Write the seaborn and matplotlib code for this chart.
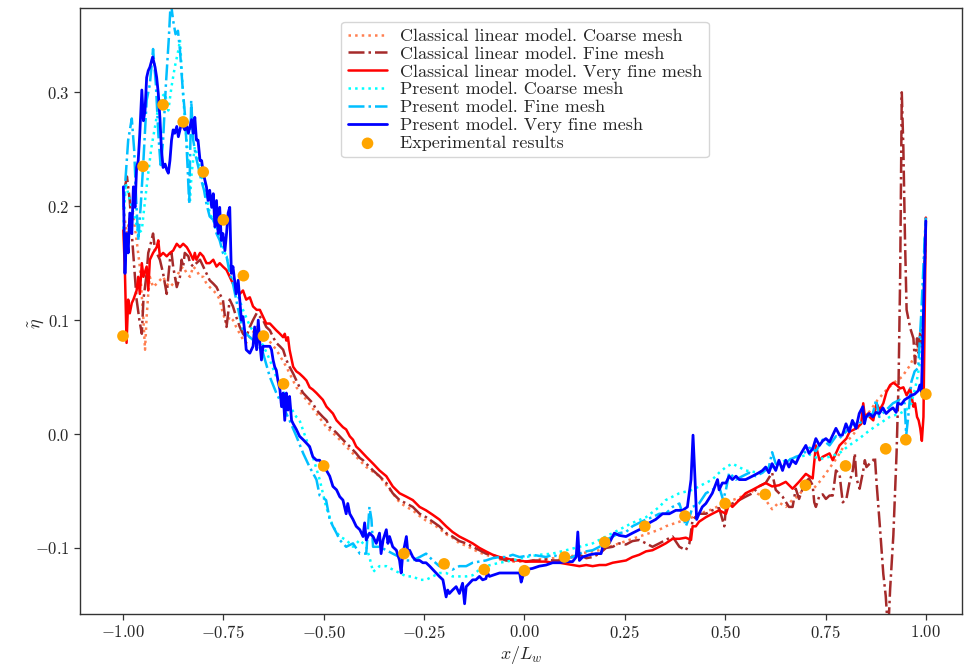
import matplotlib
matplotlib.use("Agg")
import matplotlib.pyplot as plt
import seaborn as sns

# ---------------- data ----------------
x_exp = [-1.0, -0.95, -0.9, -0.85, -0.8, -0.75, -0.7, -0.65, -0.6, -0.5, -0.3, -0.2, -0.1,
         0.0, 0.1, 0.2, 0.3, 0.4, 0.5, 0.6, 0.7, 0.8, 0.9, 0.95, 1.0]
y_exp = [0.086, 0.235, 0.289, 0.274, 0.230, 0.188, 0.139, 0.086, 0.044, -0.028, -0.105, -0.114, -0.119,
         -0.120, -0.108, -0.095, -0.081, -0.072, -0.061, -0.053, -0.045, -0.028, -0.013, -0.005, 0.035]

# Classical linear model, coarse mesh (coral dotted)
x_clc = [-0.999, -0.991, -0.983, -0.975, -0.966, -0.958, -0.949, -0.945, -0.941, -0.937, -0.933, -0.925,
         -0.916, -0.908, -0.900, -0.891, -0.883, -0.875, -0.866, -0.858, -0.850, -0.841, -0.833, -0.825,
         -0.817, -0.808, -0.800, -0.792, -0.784, -0.775, -0.767, -0.759, -0.751, -0.742, -0.734, -0.726,
         -0.718, -0.709, -0.701, -0.693, -0.684, -0.667, -0.643, -0.618, -0.593, -0.568, -0.543, -0.518,
         -0.493, -0.468, -0.444, -0.419, -0.394, -0.361, -0.344, -0.328, -0.311, -0.294, -0.278, -0.261,
         -0.245, -0.228, -0.212, -0.195, -0.179, -0.162, -0.145, -0.129, -0.112, -0.096, -0.079, -0.062,
         -0.046, -0.029, -0.012, 0.004, 0.020, 0.037, 0.054, 0.070, 0.087, 0.104, 0.120, 0.137, 0.154,
         0.170, 0.187, 0.203, 0.220, 0.236, 0.253, 0.269, 0.286, 0.303, 0.319, 0.336, 0.352, 0.369,
         0.386, 0.402, 0.419, 0.435, 0.452, 0.468, 0.485, 0.502, 0.518, 0.535, 0.551, 0.568, 0.584,
         0.601, 0.617, 0.634, 0.651, 0.667, 0.684, 0.700, 0.720, 0.740, 0.760, 0.780, 0.800, 0.820,
         0.840, 0.860, 0.880, 0.900, 0.920, 0.940, 0.960, 0.980, 0.990, 1.0]
y_clc = [0.199, 0.176, 0.190, 0.194, 0.170, 0.147, 0.100, 0.074, 0.103, 0.123, 0.138, 0.129,
         0.132, 0.135, 0.138, 0.132, 0.129, 0.132, 0.138, 0.144, 0.147, 0.141, 0.138, 0.147,
         0.144, 0.138, 0.138, 0.132, 0.129, 0.126, 0.123, 0.118, 0.106, 0.097, 0.103, 0.100,
         0.094, 0.088, 0.083, 0.080, 0.085, 0.094, 0.085, 0.074, 0.059, 0.041, 0.030, 0.018,
         0.006, -0.002, -0.011, -0.020, -0.029, -0.037, -0.045, -0.052, -0.060, -0.064, -0.067, -0.072,
         -0.076, -0.079, -0.083, -0.088, -0.091, -0.096, -0.098, -0.101, -0.104, -0.106, -0.108, -0.110,
         -0.111, -0.112, -0.112, -0.112, -0.111, -0.110, -0.110, -0.109, -0.110, -0.108, -0.107, -0.105, -0.104,
         -0.103, -0.102, -0.100, -0.098, -0.096, -0.094, -0.092, -0.090, -0.088, -0.086, -0.084, -0.081, -0.079,
         -0.077, -0.075, -0.073, -0.070, -0.068, -0.066, -0.063, -0.061, -0.058, -0.056, -0.053, -0.050, -0.053,
         -0.058, -0.066, -0.060, -0.064, -0.058, -0.054, -0.045, -0.048, -0.040, -0.030, -0.020, -0.008, 0.000,
         0.010, 0.020, 0.030, 0.038, 0.045, 0.050, 0.060, 0.075, 0.090, 0.170]

# Classical linear model, fine mesh (brown dash-dot)
x_clf = [-0.995, -0.990, -0.983, -0.978, -0.972, -0.966, -0.959, -0.953, -0.949, -0.941, -0.937, -0.933,
         -0.925, -0.920, -0.916, -0.908, -0.900, -0.891, -0.887, -0.883, -0.879, -0.875, -0.866, -0.858,
         -0.854, -0.850, -0.846, -0.837, -0.833, -0.825, -0.817, -0.808, -0.800, -0.792, -0.784, -0.775,
         -0.767, -0.759, -0.751, -0.746, -0.742, -0.738, -0.734, -0.726, -0.718, -0.709, -0.701, -0.693,
         -0.684, -0.676, -0.667, -0.659, -0.651, -0.643, -0.634, -0.626, -0.618, -0.609, -0.601, -0.593,
         -0.585, -0.576, -0.568, -0.560, -0.551, -0.543, -0.535, -0.527, -0.518, -0.510, -0.502, -0.493,
         -0.485, -0.477, -0.468, -0.460, -0.452, -0.444, -0.435, -0.427, -0.419, -0.410, -0.402, -0.394,
         -0.377, -0.361, -0.344, -0.328, -0.311, -0.294, -0.278, -0.261, -0.245, -0.228, -0.212, -0.195,
         -0.179, -0.162, -0.145, -0.129, -0.112, -0.096, -0.079, -0.062, -0.046, -0.029, -0.012, 0.004,
         0.020, 0.037, 0.054, 0.070, 0.087, 0.104, 0.120, 0.137, 0.154, 0.170, 0.187, 0.203, 0.220,
         0.236, 0.253, 0.269, 0.286, 0.303, 0.319, 0.336, 0.352, 0.369, 0.386, 0.402, 0.411, 0.419,
         0.435, 0.452, 0.468, 0.485, 0.498, 0.502, 0.518, 0.535, 0.551, 0.568, 0.584, 0.601, 0.617,
         0.626, 0.643, 0.659, 0.668, 0.676, 0.684, 0.693, 0.701, 0.709, 0.718, 0.722, 0.726, 0.735,
         0.743, 0.751, 0.760, 0.768, 0.776, 0.785, 0.789, 0.793, 0.802, 0.810, 0.818, 0.823, 0.827,
         0.835, 0.844, 0.848, 0.852, 0.860, 0.869, 0.873, 0.877, 0.885, 0.894, 0.900, 0.906, 0.911,
         0.919, 0.927, 0.932, 0.936, 0.940, 0.944, 0.948, 0.952, 0.961, 0.969, 0.973, 0.978, 0.982,
         0.986, 0.990, 0.994, 0.998, 1.0]
y_clf = [0.217, 0.226, 0.205, 0.176, 0.147, 0.118, 0.100, 0.088, 0.118, 0.141, 0.159, 0.164,
         0.176, 0.161, 0.159, 0.153, 0.141, 0.123, 0.138, 0.153, 0.159, 0.147, 0.129, 0.138,
         0.153, 0.147, 0.159, 0.156, 0.150, 0.147, 0.150, 0.153, 0.147, 0.141, 0.135, 0.132,
         0.129, 0.123, 0.118, 0.103, 0.094, 0.106, 0.118, 0.112, 0.103, 0.094, 0.088, 0.085,
         0.094, 0.100, 0.106, 0.103, 0.100, 0.094, 0.091, 0.085, 0.080, 0.077, 0.074, 0.065,
         0.059, 0.053, 0.047, 0.041, 0.036, 0.033, 0.030, 0.027, 0.021, 0.018, 0.015, 0.012,
         0.006, 0.004, 0.001, -0.002, -0.005, -0.008, -0.011, -0.014, -0.017, -0.021, -0.023, -0.026,
         -0.032, -0.037, -0.043, -0.052, -0.058, -0.061, -0.064, -0.070, -0.073, -0.077, -0.081, -0.087,
         -0.090, -0.094, -0.096, -0.099, -0.102, -0.105, -0.106, -0.109, -0.111, -0.110, -0.111, -0.112,
         -0.111, -0.111, -0.110, -0.111, -0.111, -0.109, -0.108, -0.106, -0.109, -0.108, -0.105, -0.100, -0.099,
         -0.096, -0.097, -0.094, -0.093, -0.096, -0.099, -0.096, -0.093, -0.090, -0.099, -0.102, -0.096, -0.075,
         -0.070, -0.070, -0.067, -0.065, -0.081, -0.064, -0.061, -0.058, -0.055, -0.052, -0.046, -0.043, -0.034,
         -0.049, -0.055, -0.064, -0.064, -0.048, -0.057, -0.048, -0.042, -0.039, -0.045, -0.060, -0.064, -0.054,
         -0.053, -0.057, -0.054, -0.054, -0.032, -0.035, -0.048, -0.060, -0.057, -0.042, -0.032, -0.017, -0.039,
         -0.048, -0.032, -0.023, -0.029, -0.026, -0.023, -0.020, -0.042, -0.079, -0.123, -0.142, -0.175, -0.136,
         -0.089, -0.017, 0.046, 0.140, 0.300, 0.250, 0.171, 0.109, 0.093, 0.084, 0.062, 0.084, 0.071,
         0.090, 0.077, 0.109, 0.171, 0.190]

# Classical linear model, very fine mesh (red solid)
x_clv = [-0.999, -0.995, -0.991, -0.987, -0.983, -0.978, -0.974, -0.966, -0.962, -0.958, -0.953, -0.949,
         -0.941, -0.937, -0.933, -0.925, -0.916, -0.912, -0.908, -0.900, -0.891, -0.883, -0.875, -0.866,
         -0.858, -0.850, -0.841, -0.833, -0.825, -0.821, -0.817, -0.808, -0.800, -0.792, -0.784, -0.775,
         -0.767, -0.759, -0.751, -0.742, -0.734, -0.726, -0.718, -0.709, -0.701, -0.693, -0.684, -0.676,
         -0.667, -0.659, -0.651, -0.643, -0.634, -0.626, -0.618, -0.609, -0.601, -0.597, -0.593, -0.589,
         -0.585, -0.576, -0.568, -0.560, -0.551, -0.543, -0.535, -0.527, -0.518, -0.510, -0.502, -0.493,
         -0.485, -0.477, -0.468, -0.460, -0.452, -0.444, -0.435, -0.427, -0.419, -0.410, -0.402, -0.394,
         -0.377, -0.361, -0.344, -0.328, -0.311, -0.294, -0.278, -0.261, -0.245, -0.228, -0.212, -0.195,
         -0.179, -0.162, -0.145, -0.129, -0.112, -0.096, -0.079, -0.062, -0.046, -0.029, -0.012, 0.004,
         0.020, 0.037, 0.054, 0.070, 0.087, 0.104, 0.120, 0.137, 0.154, 0.170, 0.187, 0.203, 0.220,
         0.236, 0.253, 0.269, 0.286, 0.303, 0.319, 0.336, 0.352, 0.369, 0.386, 0.402, 0.415, 0.419,
         0.427, 0.435, 0.452, 0.468, 0.485, 0.502, 0.510, 0.518, 0.535, 0.551, 0.568, 0.584, 0.601,
         0.617, 0.634, 0.651, 0.668, 0.684, 0.701, 0.718, 0.726, 0.735, 0.743, 0.760, 0.768, 0.785,
         0.802, 0.810, 0.827, 0.839, 0.844, 0.848, 0.856, 0.860, 0.869, 0.877, 0.885, 0.894, 0.902,
         0.911, 0.919, 0.927, 0.936, 0.944, 0.952, 0.961, 0.969, 0.973, 0.978, 0.982, 0.986, 0.990,
         0.994, 1.0]
y_clv = [0.179, 0.141, 0.080, 0.118, 0.106, 0.115, 0.118, 0.126, 0.138, 0.123, 0.150, 0.138,
         0.147, 0.126, 0.153, 0.159, 0.164, 0.170, 0.156, 0.159, 0.156, 0.159, 0.161, 0.167,
         0.164, 0.167, 0.164, 0.159, 0.153, 0.159, 0.153, 0.159, 0.156, 0.150, 0.150, 0.153,
         0.147, 0.150, 0.147, 0.144, 0.138, 0.132, 0.129, 0.123, 0.126, 0.118, 0.120, 0.112,
         0.109, 0.109, 0.103, 0.097, 0.097, 0.094, 0.091, 0.088, 0.085, 0.088, 0.082, 0.085,
         0.074, 0.059, 0.055, 0.053, 0.050, 0.047, 0.041, 0.039, 0.036, 0.033, 0.030, 0.024,
         0.021, 0.018, 0.012, 0.009, 0.006, 0.004, -0.002, -0.005, -0.011, -0.014, -0.017, -0.020,
         -0.026, -0.032, -0.037, -0.046, -0.052, -0.055, -0.058, -0.064, -0.067, -0.071, -0.075, -0.081,
         -0.086, -0.090, -0.093, -0.096, -0.100, -0.103, -0.106, -0.108, -0.109, -0.111, -0.111, -0.112,
         -0.112, -0.112, -0.112, -0.113, -0.113, -0.114, -0.115, -0.116, -0.115, -0.116, -0.115, -0.115, -0.113,
         -0.112, -0.111, -0.108, -0.106, -0.103, -0.102, -0.099, -0.096, -0.092, -0.092, -0.091, -0.093, -0.081,
         -0.081, -0.077, -0.073, -0.070, -0.067, -0.070, -0.061, -0.064, -0.058, -0.052, -0.049, -0.046, -0.043,
         -0.046, -0.045, -0.042, -0.048, -0.042, -0.035, -0.039, -0.010, -0.023, -0.020, -0.017, -0.023, -0.010,
         -0.004, 0.002, 0.005, 0.009, 0.027, 0.015, 0.018, 0.015, 0.012, 0.027, 0.021, 0.027, 0.037,
         0.043, 0.045, 0.043, 0.040, 0.041, 0.034, 0.040, 0.024, 0.027, 0.015, 0.012, 0.005, -0.006,
         0.015, 0.190]

# Present model, coarse mesh (cyan dotted)
x_prc = [-0.999, -0.993, -0.987, -0.978, -0.970, -0.962, -0.953, -0.945, -0.937, -0.929, -0.920, -0.912,
         -0.904, -0.895, -0.887, -0.879, -0.871, -0.862, -0.858, -0.854, -0.850, -0.843, -0.837, -0.833,
         -0.829, -0.821, -0.813, -0.804, -0.796, -0.784, -0.767, -0.751, -0.734, -0.718, -0.701, -0.684,
         -0.667, -0.651, -0.634, -0.618, -0.601, -0.585, -0.568, -0.560, -0.543, -0.527, -0.510, -0.494,
         -0.477, -0.460, -0.444, -0.427, -0.410, -0.394, -0.386, -0.377, -0.361, -0.344, -0.328, -0.311,
         -0.294, -0.278, -0.261, -0.245, -0.228, -0.212, -0.195, -0.179, -0.162, -0.145, -0.129, -0.112,
         -0.096, -0.062, -0.029, 0.004, 0.037, 0.070, 0.104, 0.137, 0.170, 0.203, 0.236, 0.269, 0.303,
         0.336, 0.352, 0.386, 0.419, 0.435, 0.468, 0.485, 0.502, 0.518, 0.551, 0.584, 0.617, 0.651,
         0.684, 0.710, 0.735, 0.760, 0.784, 0.809, 0.834, 0.859, 0.884, 0.910, 0.935, 0.951, 0.964,
         0.977, 0.985, 0.993, 0.997, 1.0]
y_prc = [0.180, 0.220, 0.211, 0.199, 0.190, 0.176, 0.179, 0.205, 0.229, 0.252, 0.270, 0.287,
         0.296, 0.299, 0.284, 0.305, 0.322, 0.337, 0.346, 0.322, 0.296, 0.264, 0.240, 0.205,
         0.229, 0.252, 0.243, 0.226, 0.217, 0.194, 0.182, 0.164, 0.147, 0.126, 0.109, 0.095,
         0.085, 0.078, 0.065, 0.050, 0.038, 0.025, 0.015, 0.012, -0.005, -0.020, -0.040, -0.064,
         -0.081, -0.090, -0.093, -0.099, -0.093, -0.099, -0.108, -0.121, -0.116, -0.116, -0.119, -0.122,
         -0.125, -0.125, -0.128, -0.128, -0.125, -0.122, -0.122, -0.125, -0.125, -0.125, -0.124, -0.119,
         -0.116, -0.113, -0.111, -0.108, -0.106, -0.105, -0.102, -0.099, -0.096, -0.090, -0.084, -0.078, -0.073,
         -0.064, -0.058, -0.052, -0.049, -0.046, -0.040, -0.034, -0.029, -0.026, -0.032, -0.034, -0.029, -0.023,
         -0.020, -0.018, -0.022, -0.020, -0.017, -0.010, -0.004, 0.003, 0.009, 0.015, 0.018, 0.021, 0.027,
         0.046, 0.062, 0.109, 0.171, 0.184]

# Present model, fine mesh (deep sky blue dash-dot)
x_prf = [-0.999, -0.995, -0.987, -0.978, -0.972, -0.967, -0.962, -0.956, -0.949, -0.941, -0.933, -0.925,
         -0.918, -0.912, -0.906, -0.900, -0.893, -0.886, -0.881, -0.875, -0.869, -0.863, -0.858, -0.852,
         -0.845, -0.839, -0.835, -0.830, -0.825, -0.818, -0.812, -0.805, -0.798, -0.792, -0.784, -0.775,
         -0.767, -0.759, -0.751, -0.742, -0.734, -0.726, -0.718, -0.709, -0.701, -0.684, -0.667, -0.651,
         -0.634, -0.618, -0.601, -0.585, -0.568, -0.551, -0.535, -0.518, -0.510, -0.494, -0.485, -0.477,
         -0.468, -0.460, -0.444, -0.427, -0.410, -0.394, -0.386, -0.381, -0.377, -0.361, -0.344, -0.328,
         -0.311, -0.294, -0.278, -0.261, -0.245, -0.228, -0.212, -0.195, -0.179, -0.162, -0.145, -0.129,
         -0.112, -0.096, -0.079, -0.062, -0.046, -0.029, -0.012, 0.004, 0.020, 0.037, 0.054, 0.070, 0.087,
         0.104, 0.120, 0.137, 0.154, 0.170, 0.187, 0.203, 0.220, 0.236, 0.253, 0.269, 0.286, 0.303,
         0.319, 0.336, 0.352, 0.369, 0.386, 0.394, 0.402, 0.411, 0.419, 0.435, 0.452, 0.468, 0.485,
         0.495, 0.502, 0.510, 0.527, 0.543, 0.560, 0.576, 0.593, 0.609, 0.617, 0.626, 0.643, 0.659,
         0.676, 0.693, 0.710, 0.726, 0.743, 0.760, 0.776, 0.784, 0.801, 0.817, 0.834, 0.851, 0.868,
         0.876, 0.884, 0.901, 0.918, 0.935, 0.947, 0.951, 0.956, 0.964, 0.972, 0.981, 0.989, 0.997, 1.0]
y_prf = [0.199, 0.217, 0.258, 0.277, 0.249, 0.205, 0.170, 0.199, 0.240, 0.293, 0.307, 0.338,
         0.307, 0.264, 0.234, 0.258, 0.307, 0.346, 0.380, 0.363, 0.351, 0.354, 0.337, 0.307,
         0.278, 0.234, 0.202, 0.293, 0.258, 0.243, 0.234, 0.223, 0.214, 0.202, 0.191, 0.188,
         0.176, 0.170, 0.159, 0.156, 0.141, 0.132, 0.118, 0.103, 0.091, 0.085, 0.080, 0.071,
         0.050, 0.036, 0.024, 0.012, -0.002, -0.017, -0.029, -0.040, -0.054, -0.058, -0.075, -0.081,
         -0.087, -0.093, -0.099, -0.096, -0.105, -0.105, -0.064, -0.075, -0.099, -0.099, -0.102, -0.105,
         -0.108, -0.111, -0.111, -0.108, -0.105, -0.111, -0.116, -0.116, -0.119, -0.116, -0.116, -0.113,
         -0.112, -0.111, -0.109, -0.108, -0.108, -0.106, -0.108, -0.107, -0.106, -0.107, -0.108, -0.106, -0.108,
         -0.109, -0.108, -0.105, -0.103, -0.102, -0.099, -0.093, -0.090, -0.087, -0.086, -0.081, -0.078, -0.075,
         -0.073, -0.070, -0.070, -0.064, -0.061, -0.070, -0.081, -0.073, -0.064, -0.061, -0.052, -0.049, -0.046,
         -0.058, -0.049, -0.034, -0.040, -0.037, -0.034, -0.037, -0.034, -0.029, -0.016, -0.026, -0.029, -0.023,
         -0.020, -0.018, -0.012, -0.015, -0.005, -0.010, -0.002, -0.004, 0.002, 0.009, 0.009, 0.015, 0.018,
         0.030, 0.015, 0.021, 0.027, 0.030, 0.027, -0.001, 0.015, 0.046, 0.055, 0.058, 0.109, 0.171, 0.190]

# Present model, very fine mesh (blue solid)
x_prv = [-0.999, -0.995, -0.991, -0.987, -0.983, -0.978, -0.974, -0.970, -0.966, -0.962, -0.958, -0.953,
         -0.949, -0.945, -0.941, -0.937, -0.933, -0.926, -0.920, -0.916, -0.912, -0.908, -0.904, -0.900,
         -0.895, -0.891, -0.887, -0.883, -0.879, -0.875, -0.871, -0.866, -0.862, -0.858, -0.854, -0.850,
         -0.846, -0.841, -0.837, -0.833, -0.829, -0.825, -0.821, -0.817, -0.813, -0.808, -0.804, -0.800,
         -0.792, -0.788, -0.784, -0.779, -0.775, -0.771, -0.767, -0.763, -0.759, -0.755, -0.751, -0.746,
         -0.742, -0.738, -0.734, -0.730, -0.726, -0.722, -0.718, -0.713, -0.709, -0.705, -0.701, -0.697,
         -0.693, -0.684, -0.676, -0.672, -0.667, -0.663, -0.659, -0.655, -0.651, -0.643, -0.634, -0.630,
         -0.626, -0.622, -0.618, -0.614, -0.609, -0.605, -0.601, -0.597, -0.593, -0.589, -0.585, -0.580,
         -0.576, -0.568, -0.560, -0.551, -0.543, -0.535, -0.527, -0.518, -0.510, -0.502, -0.493, -0.485,
         -0.477, -0.468, -0.460, -0.452, -0.444, -0.440, -0.435, -0.427, -0.419, -0.410, -0.402, -0.398,
         -0.394, -0.386, -0.377, -0.369, -0.361, -0.357, -0.352, -0.344, -0.340, -0.336, -0.328, -0.319,
         -0.311, -0.307, -0.303, -0.299, -0.294, -0.290, -0.286, -0.278, -0.270, -0.261, -0.253, -0.245,
         -0.236, -0.228, -0.220, -0.212, -0.203, -0.195, -0.191, -0.187, -0.179, -0.170, -0.162, -0.154,
         -0.149, -0.145, -0.137, -0.129, -0.121, -0.112, -0.104, -0.096, -0.092, -0.087, -0.079, -0.062,
         -0.046, -0.029, -0.012, -0.008, -0.004, 0.004, 0.020, 0.037, 0.054, 0.070, 0.087, 0.104, 0.120,
         0.129, 0.133, 0.137, 0.145, 0.162, 0.178, 0.191, 0.195, 0.211, 0.224, 0.236, 0.253, 0.269,
         0.286, 0.303, 0.311, 0.327, 0.344, 0.361, 0.377, 0.394, 0.406, 0.415, 0.420, 0.425, 0.429,
         0.435, 0.443, 0.452, 0.468, 0.481, 0.485, 0.493, 0.502, 0.510, 0.518, 0.527, 0.535, 0.551,
         0.568, 0.584, 0.593, 0.601, 0.609, 0.617, 0.626, 0.634, 0.643, 0.651, 0.659, 0.667, 0.676,
         0.684, 0.701, 0.709, 0.718, 0.726, 0.735, 0.743, 0.751, 0.760, 0.768, 0.776, 0.785, 0.792,
         0.801, 0.809, 0.817, 0.826, 0.834, 0.843, 0.847, 0.851, 0.859, 0.868, 0.876, 0.884, 0.893,
         0.901, 0.910, 0.918, 0.926, 0.930, 0.939, 0.947, 0.956, 0.964, 0.972, 0.981, 0.985, 0.989, 1.0]
y_prv = [0.217, 0.141, 0.176, 0.159, 0.194, 0.176, 0.217, 0.199, 0.234, 0.240, 0.264, 0.302,
         0.275, 0.284, 0.313, 0.319, 0.322, 0.331, 0.322, 0.313, 0.299, 0.278, 0.249, 0.234,
         0.237, 0.232, 0.229, 0.240, 0.258, 0.267, 0.264, 0.270, 0.261, 0.267, 0.273, 0.270,
         0.267, 0.270, 0.264, 0.270, 0.276, 0.264, 0.278, 0.258, 0.258, 0.240, 0.240, 0.229,
         0.217, 0.205, 0.214, 0.199, 0.211, 0.182, 0.205, 0.176, 0.199, 0.170, 0.176, 0.161,
         0.176, 0.194, 0.199, 0.141, 0.147, 0.135, 0.123, 0.135, 0.118, 0.100, 0.103, 0.091,
         0.074, 0.071, 0.077, 0.094, 0.074, 0.100, 0.080, 0.065, 0.077, 0.077, 0.077, 0.074,
         0.065, 0.059, 0.056, 0.047, 0.039, 0.024, 0.036, 0.012, 0.036, 0.021, 0.033, 0.012,
         0.009, 0.004, -0.002, -0.005, -0.008, -0.011, -0.020, -0.023, -0.023, -0.029, -0.032, -0.037,
         -0.046, -0.049, -0.055, -0.058, -0.070, -0.061, -0.070, -0.075, -0.081, -0.084, -0.090, -0.078,
         -0.093, -0.087, -0.090, -0.096, -0.087, -0.105, -0.093, -0.084, -0.096, -0.090, -0.099, -0.102,
         -0.111, -0.122, -0.105, -0.099, -0.090, -0.105, -0.102, -0.108, -0.111, -0.111, -0.113, -0.113,
         -0.116, -0.119, -0.122, -0.125, -0.128, -0.143, -0.137, -0.140, -0.137, -0.134, -0.140, -0.131,
         -0.149, -0.134, -0.131, -0.128, -0.128, -0.125, -0.128, -0.127, -0.122, -0.125, -0.124, -0.122,
         -0.122, -0.122, -0.122, -0.130, -0.125, -0.119, -0.118, -0.116, -0.115, -0.113, -0.113, -0.112, -0.112,
         -0.108, -0.086, -0.111, -0.108, -0.106, -0.105, -0.105, -0.099, -0.096, -0.087, -0.089, -0.090, -0.087,
         -0.084, -0.081, -0.078, -0.075, -0.070, -0.070, -0.067, -0.067, -0.064, -0.040, -0.001, -0.040, -0.075,
         -0.070, -0.064, -0.061, -0.052, -0.040, -0.049, -0.043, -0.043, -0.037, -0.040, -0.037, -0.040, -0.040,
         -0.037, -0.034, -0.032, -0.029, -0.034, -0.026, -0.032, -0.023, -0.032, -0.023, -0.029, -0.023, -0.026,
         -0.020, -0.010, -0.017, -0.013, -0.004, -0.010, -0.006, -0.004, -0.007, -0.001, 0.005, -0.001, -0.001,
         0.009, 0.002, 0.012, 0.005, 0.018, 0.024, 0.009, 0.015, 0.018, 0.015, 0.019, 0.018, 0.023,
         0.018, 0.021, 0.023, 0.019, 0.027, 0.026, 0.030, 0.032, 0.034, 0.035, 0.038, 0.043, 0.037, 0.187]

labels = ["Classical linear model. Coarse mesh",
          "Classical linear model. Fine mesh",
          "Classical linear model. Very fine mesh",
          "Present model. Coarse mesh",
          "Present model. Fine mesh",
          "Present model. Very fine mesh",
          "Experimental results"]

# ---------------- styling ----------------
sns.set_theme(style="ticks")
plt.rcParams["font.family"] = ["cmr10", "DejaVu Serif"]
plt.rcParams["mathtext.fontset"] = "cm"
plt.rcParams["axes.formatter.use_mathtext"] = True
plt.rcParams["axes.unicode_minus"] = True

fig = plt.figure(figsize=(9.64, 6.69), dpi=100)
ax = fig.add_axes([80 / 964, 55 / 669, 882 / 964, 606 / 669])

series = [
    (x_clc, y_clc, "#ff7f50", ":", 1.8),
    (x_clf, y_clf, "#a52a2a", "-.", 1.8),
    (x_clv, y_clv, "#ff0000", "-", 1.8),
    (x_prc, y_prc, "#00ffff", ":", 1.8),
    (x_prf, y_prf, "#00bfff", "-.", 1.8),
    (x_prv, y_prv, "#0000ff", "-", 2.0),
]
for (xs, ys, c, ls, lw), lab in zip(series, labels[:6]):
    sns.lineplot(x=xs, y=ys, ax=ax, color=c, linestyle=ls, linewidth=lw,
                 sort=False, estimator=None, label=lab)

sns.scatterplot(x=x_exp, y=y_exp, ax=ax, color="#ffa500", s=70, edgecolor="none",
                zorder=5, label=labels[6])

ax.set_xlim(-1.107, 1.090)
ax.set_ylim(-0.158, 0.374)
ax.set_xticks([-1.0, -0.75, -0.5, -0.25, 0.0, 0.25, 0.5, 0.75, 1.0])
ax.set_yticks([-0.1, 0.0, 0.1, 0.2, 0.3])
ax.tick_params(labelsize=12, length=4, width=0.9, color="#333333")
for sp in ax.spines.values():
    sp.set_color("#333333")
    sp.set_linewidth(1.0)
ax.set_xlabel(r"$x/L_w$", fontsize=13, labelpad=2)
ax.set_ylabel(r"$\tilde{\eta}$", fontsize=13)
ax.yaxis.set_label_coords(-0.038, 0.48)

leg = ax.legend(loc="upper center", fontsize=13, frameon=True, fancybox=True,
                edgecolor="#cccccc", framealpha=0.8, handlelength=2.2,
                labelspacing=0.12, borderpad=0.35, handletextpad=0.7,
                bbox_to_anchor=(0.5045, 0.992))

fig.savefig("out.png", dpi=100)
